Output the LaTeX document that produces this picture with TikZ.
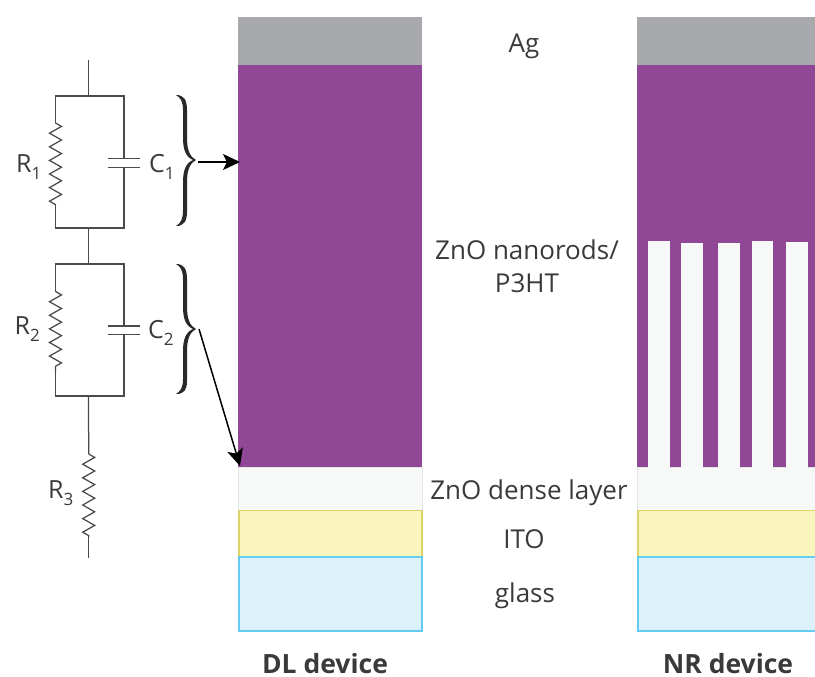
\documentclass[tikz,border=0pt]{standalone}
\usepackage{fontspec}
\setmainfont{Open Sans}
\usetikzlibrary{decorations.pathmorphing,arrows.meta}
\definecolor{lblc}{HTML}{3A3A3C}
\definecolor{wirec}{HTML}{4A4A4C}
\definecolor{agc}{HTML}{A7A9AC}
\definecolor{purc}{HTML}{8F4796}
\definecolor{znoc}{HTML}{F6F9F7}
\definecolor{znob}{HTML}{E4E6E6}
\definecolor{itoc}{HTML}{FAF5BC}
\definecolor{itob}{HTML}{DCD267}
\definecolor{glc}{HTML}{DDF1FB}
\definecolor{glb}{HTML}{63CCEF}
\tikzset{
  wire/.style={draw=wirec,line width=1.25pt,line join=miter},
  zig/.style={wire,decorate,decoration={zigzag,segment length=13.6pt,amplitude=6pt}},
  plate/.style={draw=wirec,line width=1.4pt},
  lay/.style={inner sep=0pt,outer sep=0pt,anchor=north west},
  lbl/.style={text=lblc,font=\fontsize{26}{33}\selectfont,inner sep=0pt,align=center},
  circlbl/.style={text=lblc,font=\fontsize{25}{30}\selectfont,inner sep=0pt},
  headlbl/.style={text=lblc,font=\fontsize{26.5}{30}\selectfont\bfseries,inner sep=0pt},
  arr/.style={draw=black,line width=1.5pt,-{Stealth[length=17pt,width=16pt,inset=4pt]},shorten >=0pt},
  bracefill/.style={fill=lblc!70!black,draw=none}
}
\newcommand{\sbs}[1]{\raisebox{-0.3em}{\fontsize{17}{17}\selectfont #1}}
\begin{document}
\begin{tikzpicture}[x=1pt,y=-1pt]
\useasboundingbox (0,0) rectangle (815,677);
% DL stack
\node[lay,fill=agc,minimum width=184pt,minimum height=48pt] (ag1) at (238,17) {};
\node[lay,fill=purc,minimum width=184pt,minimum height=402pt] (pur1) at (238,65) {};
\node[lay,fill=znoc,draw=znob,line width=.8pt,minimum width=184pt,minimum height=43pt] (zno1) at (238.5,467) {};
\node[lay,fill=itoc,draw=itob,line width=1.8pt,minimum width=183pt,minimum height=46.5pt] (ito1) at (239,510.5) {};
\node[lay,fill=glc,draw=glb,line width=1.8pt,minimum width=183pt,minimum height=74pt] (gl1) at (239,557) {};
% NR stack
\node[lay,fill=agc,minimum width=178pt,minimum height=48pt] (ag2) at (637,17) {};
\node[lay,fill=purc,minimum width=178pt,minimum height=402pt] (pur2) at (637,65) {};
\node[lay,fill=znoc,draw=znob,line width=.8pt,minimum width=179pt,minimum height=43pt] (zno2) at (637.5,467) {};
\node[lay,fill=znoc,minimum width=21.4pt,minimum height=227pt] (rod1) at (648.3,241) {};
\node[lay,fill=znoc,minimum width=21.7pt,minimum height=225pt] (rod2) at (681.3,243) {};
\node[lay,fill=znoc,minimum width=21.7pt,minimum height=225pt] (rod3) at (718,243) {};
\node[lay,fill=znoc,minimum width=21.6pt,minimum height=227pt] (rod4) at (751.7,241) {};
\node[lay,fill=znoc,minimum width=21.7pt,minimum height=226pt] (rod5) at (786,242) {};
\node[lay,fill=itoc,draw=itob,line width=1.8pt,minimum width=180pt,minimum height=46.5pt] (ito2) at (638,510.5) {};
\node[lay,fill=glc,draw=glb,line width=1.8pt,minimum width=180pt,minimum height=74pt] (gl2) at (638,557) {};
% labels
\node[lbl] (lag) at (524,46) {Ag};
\node[lbl] (lnr) at (527,266) {ZnO nanorods/\\P3HT};
\node[lbl] (lzno) at (529,492.5) {ZnO dense layer};
\node[lbl] (lito) at (524,539) {ITO};
\node[lbl] (lgl) at (525,596) {glass};
\node[headlbl] (hdl) at (325,664) {DL device};
\node[headlbl] (hnr) at (728,664) {NR device};
% circuit coordinates
\coordinate (t0) at (88.5,60);
\coordinate (t1) at (88.5,96);
\coordinate (a1) at (55.5,96);
\coordinate (b1) at (124,96);
\coordinate (z1a) at (55.5,123);
\coordinate (z1b) at (55.5,205);
\coordinate (a2) at (55.5,228);
\coordinate (b2) at (124,228);
\coordinate (m2) at (88.5,228);
\coordinate (m3) at (88.5,264);
\coordinate (a3) at (55.5,264);
\coordinate (b3) at (124,264);
\coordinate (z2a) at (55.5,291.5);
\coordinate (z2b) at (55.5,373);
\coordinate (a4) at (55.5,396);
\coordinate (b4) at (124,396);
\coordinate (m4) at (88.5,396);
\coordinate (z3a) at (88.7,454);
\coordinate (z3b) at (88.7,537);
\coordinate (t9) at (88.7,558);
\coordinate (c1a) at (124,158.3);
\coordinate (c1b) at (124,167.3);
\coordinate (c2a) at (124,326);
\coordinate (c2b) at (124,334.7);
% wires
\draw[wire] (t0) -- (t1);
\draw[wire] (z1a) -- (a1) -- (b1) -- (c1a);
\draw[wire] (c1b) -- (b2) -- (a2) -- (z1b);
\draw[wire] (m2) -- (m3);
\draw[wire] (z2a) -- (a3) -- (b3) -- (c2a);
\draw[wire] (c2b) -- (b4) -- (a4) -- (z2b);
\draw[wire] (m4) -- (z3a);
\draw[wire] (z3b) -- (t9);
\draw[zig] (z1a) -- (z1b);
\draw[zig] (z2a) -- (z2b);
\draw[zig] (z3a) -- (z3b);
% capacitor plates
\draw[plate] ([xshift=-16.5pt]c1a) -- ([xshift=16pt]c1a);
\draw[plate] ([xshift=-16.5pt]c1b) -- ([xshift=16pt]c1b);
\draw[plate] ([xshift=-16.5pt]c2a) -- ([xshift=16pt]c2a);
\draw[plate] ([xshift=-16.5pt]c2b) -- ([xshift=16pt]c2b);
% circuit labels
\node[circlbl,anchor=base west] (r1) at (16,172) {R\sbs{1}};
\node[circlbl,anchor=base west] (c1) at (149,172) {C\sbs{1}};
\node[circlbl,anchor=base west] (r2) at (14.5,334) {R\sbs{2}};
\node[circlbl,anchor=base west] (c2) at (148,338) {C\sbs{2}};
\node[circlbl,anchor=base west] (r3) at (48,498) {R\sbs{3}};
% braces
\fill[bracefill] (176,95) .. controls (184,95) and (187,100) .. (187,110)
  -- (187,138) .. controls (187,150) and (190,157) .. (196,160)
  .. controls (190,163) and (187,170) .. (187,182)
  -- (187,212) .. controls (187,221) and (184,226) .. (176,226)
  .. controls (181,223) and (183,219) .. (183,210)
  -- (183,182) .. controls (183,170) and (186,163) .. (193,160)
  .. controls (186,157) and (183,150) .. (183,138)
  -- (183,110) .. controls (183,102) and (181,98) .. (176,95) -- cycle;
\fill[bracefill] (176,264) .. controls (184,264) and (187,269) .. (187,279)
  -- (187,307) .. controls (187,319) and (190,326) .. (196,329)
  .. controls (190,332) and (187,339) .. (187,351)
  -- (187,381) .. controls (187,390) and (184,394) .. (176,394)
  .. controls (181,391) and (183,387) .. (183,379)
  -- (183,351) .. controls (183,339) and (186,332) .. (193,329)
  .. controls (186,326) and (183,319) .. (183,307)
  -- (183,279) .. controls (183,271) and (181,267) .. (176,264) -- cycle;
% arrows
\coordinate (s1) at (198,162);
\coordinate (e1) at (240,162);
\coordinate (s2) at (199,329);
\coordinate (e2) at (240,466);
\draw[arr] (s1) -- (e1);
\draw[arr] (s2) -- (e2);
\end{tikzpicture}
\end{document}
